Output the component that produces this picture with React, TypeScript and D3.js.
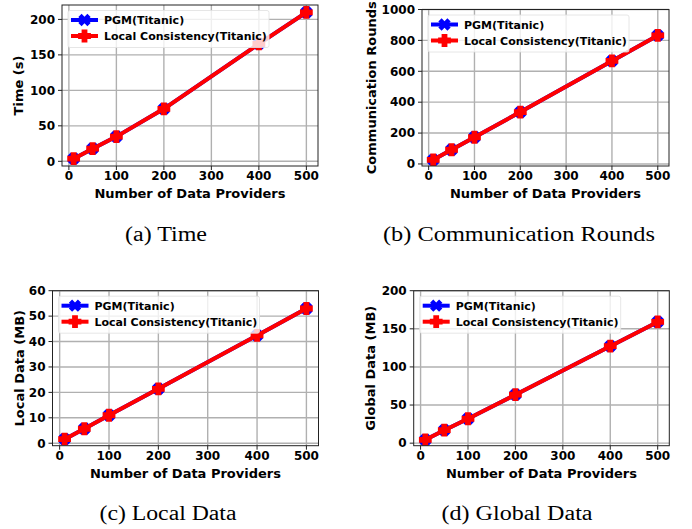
import React from "react";
import * as d3 from "d3";

const providers = [10, 50, 100, 200, 400, 500];
const timePGM = [3.7, 17.8, 34.8, 74, 165.5, 210];
const timeLC = [3.7, 17.8, 34.8, 74, 165.5, 210];
const roundsPGM = [27, 92, 173, 336, 667, 832];
const roundsLC = [27, 92, 173, 336, 667, 832];
const localPGM = [1.6, 5.7, 11, 21.4, 42.4, 53];
const localLC = [1.6, 5.7, 11, 21.4, 42.4, 53];
const globalPGM = [4.4, 17, 32, 63.6, 127.2, 159];
const globalLC = [4.4, 17, 32, 63.6, 127.2, 159];

const xTicks = [0, 100, 200, 300, 400, 500];
const timeTicks = [0, 50, 100, 150, 200];
const roundsTicks = [0, 200, 400, 600, 800, 1000];
const localTicks = [0, 10, 20, 30, 40, 50, 60];
const globalTicks = [0, 50, 100, 150, 200];

const seriesNames = ["PGM(Titanic)", "Local Consistency(Titanic)"];
const xLabel = "Number of Data Providers";

const FONT = "'DejaVu Sans', sans-serif";

type PanelSpec = {
  left: number; right: number; top: number; bottom: number;
  yLabel: string; yLabelX: number;
  pgm: number[]; lc: number[];
  yTicks: number[]; yMax?: number;
  caption: string; capX: number; capY: number; capLen: number;
};

const panels: PanelSpec[] = [
  { left: 62, right: 318, top: 5, bottom: 166, yLabel: "Time (s)", yLabelX: 22.5,
    pgm: timePGM, lc: timeLC, yTicks: timeTicks,
    caption: "(a) Time", capX: 166, capY: 241, capLen: 82 },
  { left: 422, right: 669, top: 9.5, bottom: 166, yLabel: "Communication Rounds", yLabelX: 375.5,
    pgm: roundsPGM, lc: roundsLC, yTicks: roundsTicks, yMax: 1000,
    caption: "(b) Communication Rounds", capX: 519, capY: 241, capLen: 272 },
  { left: 52.5, right: 318.5, top: 290.7, bottom: 445.7, yLabel: "Local Data (MB)", yLabelX: 23.5,
    pgm: localPGM, lc: localLC, yTicks: localTicks, yMax: 60,
    caption: "(c) Local Data", capX: 168, capY: 520, capLen: 137 },
  { left: 413.7, right: 669.3, top: 290.7, bottom: 445.7, yLabel: "Global Data (MB)", yLabelX: 374.5,
    pgm: globalPGM, lc: globalLC, yTicks: globalTicks, yMax: 200,
    caption: "(d) Global Data", capX: 517, capY: 520, capLen: 151 },
];

function crossPath(cx: number, cy: number, L: number, w: number, rot: number) {
  const pts: [number, number][] = [
    [-w, -L], [w, -L], [w, -w], [L, -w], [L, w], [w, w],
    [w, L], [-w, L], [-w, w], [-L, w], [-L, -w], [-w, -w],
  ];
  const c = Math.cos(rot), s = Math.sin(rot);
  return "M" + pts.map(([x, y]) => `${(cx + x * c - y * s).toFixed(2)},${(cy + x * s + y * c).toFixed(2)}`).join("L") + "Z";
}

function Panel({ p }: { p: PanelSpec }) {
  const x = d3.scaleLinear().domain([10 - 0.05 * 490, 500 + 0.05 * 490]).range([p.left, p.right]);
  const all = [...p.pgm, ...p.lc];
  const mn = d3.min(all)!, mx = d3.max(all)!;
  const span = mx - mn;
  const y = d3.scaleLinear()
    .domain([mn - 0.05 * span, p.yMax !== undefined ? p.yMax : mx + 0.05 * span])
    .range([p.bottom, p.top]);
  const line = d3.line<number>().x((_, i) => x(providers[i])).y((d) => y(d));
  const blue = "#0000ff", red = "#ff0000";
  const lx = p.left + 6, ly = p.top + 5.5;
  const rows = [ly + 9.5, ly + 25.5];
  const bL = 6.4, bW = 2.3, rL = 6.4, rW = 2.9;
  return (
    <g>
      <defs>
        <clipPath id={"clip" + p.left + p.top}>
          <rect x={p.left} y={p.top} width={p.right - p.left} height={p.bottom - p.top} />
        </clipPath>
      </defs>
      {xTicks.map((t) => (
        <line key={"gx" + t} x1={x(t)} x2={x(t)} y1={p.top} y2={p.bottom} stroke="#b0b0b0" strokeWidth={1.4} />
      ))}
      {p.yTicks.map((t) => (
        <line key={"gy" + t} x1={p.left} x2={p.right} y1={y(t)} y2={y(t)} stroke="#b0b0b0" strokeWidth={1.4} />
      ))}
      <g clipPath={`url(#clip${p.left}${p.top})`}>
        <path d={line(p.pgm)!} fill="none" stroke={blue} strokeWidth={4} />
        {p.pgm.map((v, i) => (
          <path key={"b" + i} d={crossPath(x(providers[i]), y(v), bL, bW, Math.PI / 4)} fill={blue} />
        ))}
        <path d={line(p.lc)!} fill="none" stroke={red} strokeWidth={4} />
        {p.lc.map((v, i) => (
          <path key={"r" + i} d={crossPath(x(providers[i]), y(v), rL, rW, 0)} fill={red} />
        ))}
      </g>
      <rect x={p.left} y={p.top} width={p.right - p.left} height={p.bottom - p.top} fill="none" stroke="#222" strokeWidth={1} />
      {xTicks.map((t) => (
        <g key={"xt" + t}>
          <line x1={x(t)} x2={x(t)} y1={p.bottom} y2={p.bottom + 4} stroke="#222" strokeWidth={1} />
          <text x={x(t)} y={p.bottom + 14} textAnchor="middle" fontFamily={FONT} fontWeight="bold" fontSize={12}>{t}</text>
        </g>
      ))}
      {p.yTicks.map((t) => (
        <g key={"yt" + t}>
          <line x1={p.left - 4} x2={p.left} y1={y(t)} y2={y(t)} stroke="#222" strokeWidth={1} />
          <text x={p.left - 7} y={y(t) + 4.3} textAnchor="end" fontFamily={FONT} fontWeight="bold" fontSize={12}>{t}</text>
        </g>
      ))}
      <text x={(p.left + p.right) / 2} y={p.bottom + 32} textAnchor="middle" fontFamily={FONT} fontWeight="bold" fontSize={13}>{xLabel}</text>
      <text transform={`translate(${p.yLabelX},${(p.top + p.bottom) / 2}) rotate(-90)`} textAnchor="middle" fontFamily={FONT} fontWeight="bold" fontSize={13}>{p.yLabel}</text>
      <rect x={lx} y={ly} width={201} height={37} rx={2} fill="#fff" fillOpacity={0.8} stroke="#e0e0e0" strokeWidth={0.8} />
      {seriesNames.map((name, i) => {
        const c = i === 0 ? blue : red;
        const cx = lx + 16.5;
        return (
          <g key={name}>
            <line x1={lx + 3} x2={lx + 30} y1={rows[i]} y2={rows[i]} stroke={c} strokeWidth={4} />
            <path d={i === 0 ? crossPath(cx, rows[i], bL, bW, Math.PI / 4) : crossPath(cx, rows[i], rL, rW, 0)} fill={c} />
            <text x={lx + 36} y={rows[i] + 4} fontFamily={FONT} fontWeight="bold" fontSize={11}>{name}</text>
          </g>
        );
      })}
      <text x={p.capX} y={p.capY} textAnchor="middle" fontFamily="'Liberation Serif', 'Times New Roman', serif" fontSize={20}
        textLength={p.capLen} lengthAdjust="spacingAndGlyphs">{p.caption}</text>
    </g>
  );
}

export default function App() {
  return (
    <svg width={692} height={529} style={{ position: "absolute", left: 0, top: 0, background: "#fff" }}>
      <rect x={0} y={0} width={692} height={529} fill="#fff" />
      {panels.map((p, i) => <Panel key={i} p={p} />)}
    </svg>
  );
}
